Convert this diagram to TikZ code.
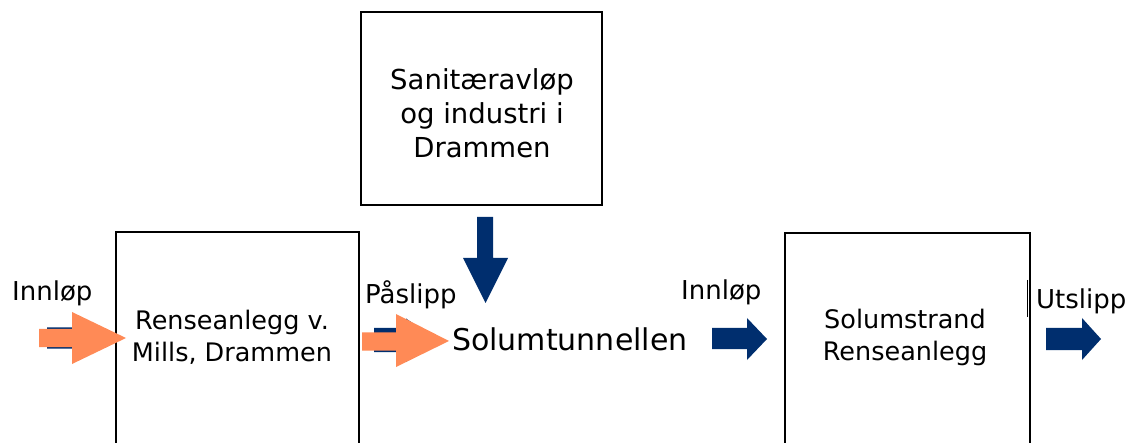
\documentclass[tikz,border=0pt]{standalone}
\usepackage{fontspec}
\setmainfont{DejaVu Sans}
\definecolor{navy}{RGB}{0,46,110}
\definecolor{flow}{RGB}{255,138,86}
\begin{document}
\begin{tikzpicture}[x=1pt,y=-1pt,
  unit/.style={draw=black, line width=2.4pt, fill=white, inner sep=0pt},
  unittext/.style={align=center, inner sep=0pt, font=\fontsize{25.5}{32}\selectfont},
  lbl/.style={anchor=base west, inner sep=0pt, font=\fontsize{26}{30}\selectfont},
  navyarrow/.style={fill=navy},
  flowarrow/.style={fill=flow}]
\useasboundingbox (0,0) rectangle (1129,443);
\clip (0,0) rectangle (1129,443);

% treatment units
\node[unit, minimum width=241pt, minimum height=193pt] (source) at (481.5,108.5) {};
\node[unittext, font=\fontsize{27.5}{34}\selectfont] (sourcetext) at (482,113) {Sanitæravløp\\og industri i\\Drammen};

\node[unit, minimum width=243pt, minimum height=238pt] (mills) at (237.5,351) {};
\node[unittext] (millstext) at (232,337) {Renseanlegg v.\\Mills, Drammen};

\node[unit, minimum width=245pt, minimum height=237pt] (solum) at (907.5,351.5) {};
\node[unittext] (solumtext) at (905,337) {Solumstrand\\Renseanlegg};

% tunnel
\node[anchor=base west, inner sep=0pt, font=\fontsize{30}{34}\selectfont] (tunnel) at (452,350) {Solumtunnellen};

% flow labels
\node[lbl] (in1) at (12,301) {Innløp};
\node[lbl] (pa) at (365,304) {Påslipp};
\node[lbl] (in2) at (681,300) {Innløp};
\node[lbl] (out) at (1036,309) {Utslipp};
\draw[line width=1.4pt] (1027.5,280) -- (1027.5,317);

% navy block arrows
\fill[navyarrow] (477,217) -- (493,217) -- (493,258) -- (508,258) -- (485.5,303)
  -- (463,258) -- (477,258) -- cycle;
\fill[navyarrow] (712,328) -- (747,328) -- (747,318) -- (767,339) -- (747,360)
  -- (747,349) -- (712,349) -- cycle;
\fill[navyarrow] (1046,328) -- (1082,328) -- (1082,318) -- (1101,339) -- (1082,360)
  -- (1082,350) -- (1046,350) -- cycle;

% navy arrows partly covered by the orange ones
\fill[navyarrow] (47,327.5) -- (74,327.5) -- (74,318) -- (105,338) -- (74,358)
  -- (74,348.5) -- (47,348.5) -- cycle;
\fill[navyarrow] (374,328) -- (406,328) -- (406,318.5) -- (438,340) -- (406,362)
  -- (406,352) -- (374,352) -- cycle;

% orange block arrows
\fill[flowarrow] (39,329) -- (72,329) -- (72,312) -- (126,338) -- (72,364)
  -- (72,347) -- (39,347) -- cycle;
\fill[flowarrow] (362,332.5) -- (396,332.5) -- (396,314) -- (449,341) -- (396,367)
  -- (396,350.5) -- (362,350.5) -- cycle;
\end{tikzpicture}
\end{document}
